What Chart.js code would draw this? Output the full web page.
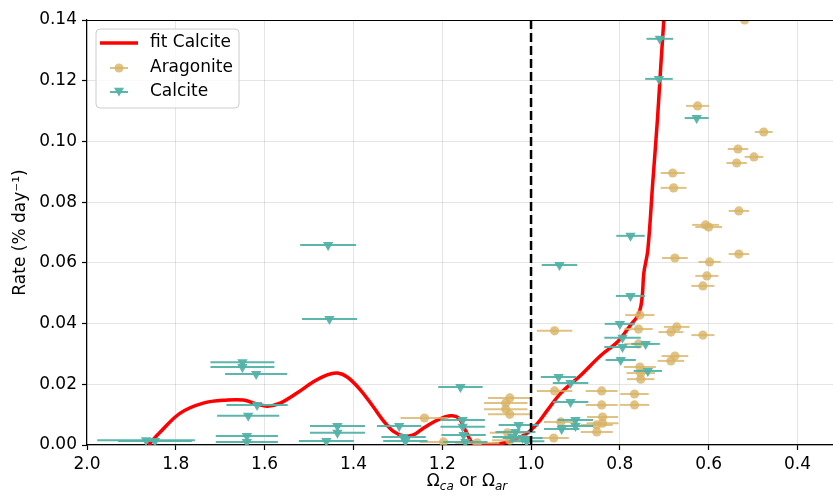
<!DOCTYPE html>
<html><head><meta charset="utf-8">
<script src="https://cdn.jsdelivr.net/npm/chart.js@4"></script>
<style>html,body{margin:0;padding:0;background:#fff;}canvas{display:block}</style>
</head><body>
<canvas id="c" width="833" height="497"></canvas>
<script>
// ---- data ----
const fitX = [1.862,1.835,1.790,1.738,1.684,1.648,1.617,1.594,1.565,1.527,1.490,1.459,1.436,1.414,1.384,1.355,1.330,1.310,1.287,1.265,1.242,1.211,1.182,1.163,1.148,1.132,1.114,1.076,1.039,1.008,0.985,0.963,0.933,0.888,0.843,0.805,0.776,0.760,0.753,0.749,0.746,0.737,0.726,0.715,0.708,0.701,0.699];
const fitY = [0.0000,0.0043,0.0105,0.0138,0.0148,0.0148,0.0135,0.0128,0.0138,0.0171,0.0208,0.0231,0.0237,0.0224,0.0181,0.0125,0.0075,0.0045,0.0030,0.0033,0.0056,0.0082,0.0096,0.0089,0.0049,0.0007,0.0000,0.0003,0.0016,0.0040,0.0072,0.0115,0.0171,0.0230,0.0295,0.0340,0.0395,0.0425,0.0455,0.0500,0.0567,0.0643,0.0863,0.1080,0.1245,0.1400,0.1450];

const aragoniteX = [0.519,0.625,0.476,0.534,0.498,0.537,0.681,0.679,0.532,0.607,0.600,0.676,0.532,0.598,0.604,0.613,0.755,0.672,0.685,0.613,0.758,0.758,0.676,0.685,0.755,0.753,0.753,0.841,0.767,0.841,0.767,0.839,0.839,0.852,0.852,0.947,0.947,0.933,0.949,1.240,1.048,1.057,1.057,1.048,1.197,1.121,1.053,1.048];
const aragoniteY = [0.1400,0.1117,0.1031,0.0975,0.0949,0.0929,0.0896,0.0847,0.0771,0.0725,0.0718,0.0616,0.0629,0.0603,0.0557,0.0524,0.0428,0.0389,0.0372,0.0362,0.0382,0.0333,0.0293,0.0277,0.0257,0.0237,0.0217,0.0178,0.0168,0.0132,0.0132,0.0092,0.0072,0.0066,0.0043,0.0376,0.0178,0.0076,0.0023,0.0089,0.0155,0.0138,0.0118,0.0101,0.0010,0.0007,0.0040,0.0016];
const aragoniteErr = [0.025,0.026,0.020,0.023,0.021,0.023,0.027,0.029,0.023,0.030,0.030,0.029,0.023,0.025,0.026,0.026,0.033,0.029,0.028,0.026,0.032,0.032,0.030,0.030,0.036,0.032,0.031,0.036,0.032,0.036,0.033,0.035,0.036,0.036,0.036,0.040,0.040,0.038,0.034,0.054,0.049,0.049,0.049,0.049,0.054,0.050,0.040,0.040];

const calciteX = [0.710,0.712,0.627,0.776,1.457,1.454,0.936,0.776,0.800,0.794,0.794,0.742,0.798,0.737,1.650,1.650,1.619,1.617,1.637,1.640,1.640,1.867,1.847,1.436,1.436,1.461,1.297,1.287,1.283,1.159,1.154,1.154,1.152,1.148,1.028,1.035,1.042,1.019,1.010,0.938,0.911,0.911,0.900,0.900,0.931];
const calciteY = [0.1338,0.1206,0.1077,0.0689,0.0659,0.0415,0.0593,0.0491,0.0399,0.0353,0.0323,0.0333,0.0280,0.0244,0.0273,0.0257,0.0234,0.0132,0.0096,0.0030,0.0010,0.0016,0.0013,0.0063,0.0040,0.0013,0.0063,0.0026,0.0013,0.0191,0.0082,0.0060,0.0033,0.0010,0.0066,0.0043,0.0026,0.0023,0.0012,0.0224,0.0204,0.0142,0.0082,0.0063,0.0053];
const calciteErr = [0.030,0.031,0.027,0.032,0.063,0.062,0.040,0.033,0.034,0.041,0.041,0.032,0.034,0.032,0.072,0.072,0.070,0.069,0.070,0.070,0.070,0.110,0.083,0.062,0.062,0.062,0.050,0.050,0.050,0.050,0.050,0.050,0.050,0.050,0.045,0.045,0.045,0.045,0.040,0.040,0.040,0.040,0.040,0.040,0.040];

const xTicks = [2.0,1.8,1.6,1.4,1.2,1.0,0.8,0.6,0.4];
const yTicks = [0.00,0.02,0.04,0.06,0.08,0.10,0.12,0.14];
const saturationLine = 1.0;

// ---- styles ----
const FONT = 'DejaVu Sans';
const RED = '#ff0000';
const ARA = 'rgba(216,179,101,0.8)';
const CAL = 'rgba(82,178,168,0.95)';

const pts = (xs, ys) => xs.map((x, i) => ({x, y: ys[i]}));

const errorBars = {
  id: 'errorBars',
  beforeDatasetDraw(chart, args) {
    const ds = chart.data.datasets[args.index];
    if (!ds.xErr) return;
    const {ctx, chartArea: a, scales: {x, y}} = chart;
    ctx.save();
    ctx.beginPath(); ctx.rect(a.left, a.top, a.right - a.left, a.bottom - a.top); ctx.clip();
    ctx.strokeStyle = ds.errColor; ctx.lineWidth = 2;
    ds.data.forEach((p, i) => {
      const py = y.getPixelForValue(p.y);
      ctx.beginPath();
      ctx.moveTo(x.getPixelForValue(p.x - ds.xErr[i]), py);
      ctx.lineTo(x.getPixelForValue(p.x + ds.xErr[i]), py);
      ctx.stroke();
    });
    ctx.restore();
  }
};

const decorations = {
  id: 'decorations',
  afterDatasetsDraw(chart) {
    const {ctx, chartArea: a, scales: {x}} = chart;
    const px = x.getPixelForValue(saturationLine);
    ctx.save();
    ctx.strokeStyle = '#000'; ctx.lineWidth = 2.5; ctx.setLineDash([9, 4]);
    ctx.beginPath(); ctx.moveTo(px, a.top); ctx.lineTo(px, a.bottom); ctx.stroke();
    ctx.setLineDash([]);
    ctx.lineWidth = 1.2;
    ctx.beginPath(); ctx.moveTo(a.left, a.top + 0.5); ctx.lineTo(a.right, a.top + 0.5); ctx.stroke();
    ctx.restore();
  },
  afterDraw(chart) {
    const {ctx} = chart;
    ctx.save();
    // x-axis label with subscripts
    const big = '17px "' + FONT + '"', small = 'italic 12px "' + FONT + '"';
    const parts = [['Ω', big, 0], ['ca', small, 4], [' or Ω', big, 0], ['ar', small, 4]];
    let w = 0;
    parts.forEach(p => { ctx.font = p[1]; w += ctx.measureText(p[0]).width; });
    let cx = 467 - w / 2;
    const base = 486;
    ctx.fillStyle = '#000'; ctx.textBaseline = 'alphabetic'; ctx.textAlign = 'left';
    parts.forEach(p => { ctx.font = p[1]; ctx.fillText(p[0], cx, base + p[2]); cx += ctx.measureText(p[0]).width; });

    // legend
    const L = 96, T = 29, W = 143, H = 79, r = 4;
    ctx.beginPath();
    ctx.moveTo(L + r, T); ctx.lineTo(L + W - r, T); ctx.quadraticCurveTo(L + W, T, L + W, T + r);
    ctx.lineTo(L + W, T + H - r); ctx.quadraticCurveTo(L + W, T + H, L + W - r, T + H);
    ctx.lineTo(L + r, T + H); ctx.quadraticCurveTo(L, T + H, L, T + H - r);
    ctx.lineTo(L, T + r); ctx.quadraticCurveTo(L, T, L + r, T);
    ctx.closePath();
    ctx.fillStyle = 'rgba(255,255,255,0.8)'; ctx.fill();
    ctx.strokeStyle = '#cccccc'; ctx.lineWidth = 1; ctx.stroke();

    ctx.lineWidth = 3.5; ctx.strokeStyle = RED;
    ctx.beginPath(); ctx.moveTo(100, 43); ctx.lineTo(138, 43); ctx.stroke();

    ctx.lineWidth = 2; ctx.strokeStyle = ARA;
    ctx.beginPath(); ctx.moveTo(110, 68); ctx.lineTo(128, 68); ctx.stroke();
    ctx.fillStyle = ARA; ctx.beginPath(); ctx.arc(119, 68, 4.5, 0, Math.PI * 2); ctx.fill();

    ctx.strokeStyle = CAL;
    ctx.beginPath(); ctx.moveTo(110, 92); ctx.lineTo(128, 92); ctx.stroke();
    ctx.fillStyle = CAL; ctx.beginPath();
    ctx.moveTo(119, 96.5); ctx.lineTo(114, 87.8); ctx.lineTo(124, 87.8); ctx.closePath(); ctx.fill();

    ctx.fillStyle = '#000'; ctx.font = big; ctx.textBaseline = 'middle';
    ctx.fillText('fit Calcite', 150, 43);
    ctx.fillText('Aragonite', 150, 68);
    ctx.fillText('Calcite', 150, 92);
    ctx.restore();
  }
};

new Chart(document.getElementById('c'), {
  type: 'scatter',
  data: {
    datasets: [
      {
        label: 'Calcite', data: pts(calciteX, calciteY), xErr: calciteErr, errColor: CAL,
        pointStyle: 'triangle', rotation: 180, pointRadius: 6, pointHoverRadius: 6,
        backgroundColor: CAL, borderColor: CAL, borderWidth: 0, order: 1, clip: 0
      },
      {
        label: 'Aragonite', data: pts(aragoniteX, aragoniteY), xErr: aragoniteErr, errColor: ARA,
        pointStyle: 'circle', pointRadius: 4.6, pointHoverRadius: 4.6,
        backgroundColor: ARA, borderColor: ARA, borderWidth: 0, order: 2, clip: 0
      },
      {
        label: 'fit Calcite', data: pts(fitX, fitY), showLine: true, pointRadius: 0,
        borderColor: RED, borderWidth: 3.5, tension: 0.35, order: 3, clip: 0, fill: false
      }
    ]
  },
  options: {
    responsive: false, animation: false, events: [],
    layout: {autoPadding: false, padding: {top: 20, right: 0, left: 0, bottom: 0}},
    plugins: {legend: {display: false}, tooltip: {enabled: false}},
    scales: {
      x: {
        type: 'linear', reverse: true, min: 0.32, max: 2.0,
        afterBuildTicks: s => { s.ticks = xTicks.map(v => ({value: v})); },
        afterFit: s => { s.height = 52; s.paddingLeft = 0; s.paddingRight = 0; },
        grid: {color: 'rgba(0,0,0,0.1)', lineWidth: 1, tickColor: '#000', tickLength: 5, tickWidth: 1.2},
        border: {display: true, color: '#000', width: 1.2},
        ticks: {color: '#000', font: {family: FONT, size: 17}, padding: 4, maxRotation: 0,
                callback: v => v.toFixed(1)}
      },
      y: {
        type: 'linear', min: 0, max: 0.14,
        afterBuildTicks: s => { s.ticks = yTicks.map(v => ({value: v})); },
        afterFit: s => { s.width = 87; },
        grid: {color: 'rgba(0,0,0,0.1)', lineWidth: 1, tickColor: '#000', tickLength: 5, tickWidth: 1.2},
        border: {display: true, color: '#000', width: 1.2},
        ticks: {color: '#000', font: {family: FONT, size: 17}, padding: 5,
                callback: v => v.toFixed(2)},
        title: {display: true, text: 'Rate (% day⁻¹)', color: '#000',
                font: {family: FONT, size: 17}, padding: {top: 10, bottom: 0}}
      }
    }
  },
  plugins: [errorBars, decorations]
});
</script>
</body></html>
